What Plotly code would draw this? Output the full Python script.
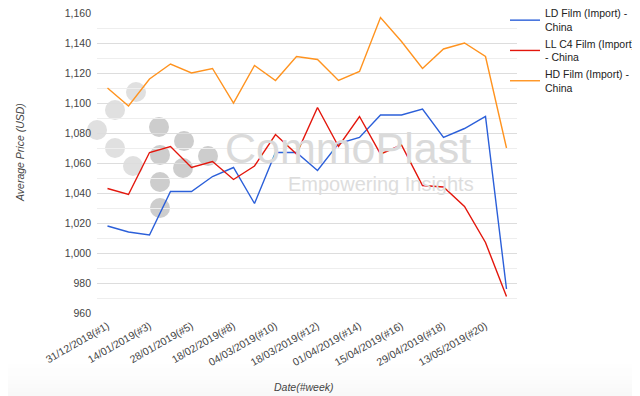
import plotly.graph_objects as go

weeks = ["31/12/2018(#1)", "07/01/2019(#2)", "14/01/2019(#3)", "21/01/2019(#4)",
         "28/01/2019(#5)", "11/02/2019(#7)", "18/02/2019(#8)", "25/02/2019(#9)",
         "04/03/2019(#10)", "11/03/2019(#11)", "18/03/2019(#12)", "25/03/2019(#13)",
         "01/04/2019(#14)", "08/04/2019(#15)", "15/04/2019(#16)", "22/04/2019(#17)",
         "29/04/2019(#18)", "06/05/2019(#19)", "13/05/2019(#20)", "20/05/2019(#21)"]

ld_film = [1018, 1014, 1012, 1041, 1041, 1051, 1057, 1033, 1067, 1067,
           1055, 1073, 1077, 1092, 1092, 1096, 1077, 1083, 1091, 976]
ll_c4_film = [1043, 1039, 1067, 1071, 1057, 1061, 1049, 1058, 1079, 1066,
              1097, 1071, 1091, 1066, 1072, 1045, 1044, 1031, 1007, 971]
hd_film = [1110, 1098, 1116, 1126, 1120, 1123, 1100, 1125, 1115, 1131,
           1129, 1115, 1121, 1157, 1141, 1123, 1136, 1140, 1131, 1070]

series_names = ["LD Film (Import) -<br>China", "LL C4 Film (Import)<br>- China",
                "HD Film (Import) -<br>China"]
series_colors = ["#2b5fd9", "#e3160c", "#ff931f"]
tick_labels = weeks[::2]

FONT = "Liberation Sans, Arial, sans-serif"
OFF = 8  # browser body margin: the figure starts 8px in from the window corner
W, H = 640 - OFF, 396 - OFF
# plot area in window pixels
L, R, T, B = 97, 517, 13, 313


def px_x(px):
    return (px - L) / (R - L)


def px_y(py):
    return (B - py) / (B - T)


fig = go.Figure()
for name, vals, col in zip(series_names, [ld_film, ll_c4_film, hd_film], series_colors):
    fig.add_trace(go.Scatter(x=weeks, y=vals, name=name, mode="lines",
                             line=dict(color=col, width=1.4)))

shapes = []
# bottom gradient band
bands = 8
for i in range(bands):
    y0 = 364 + i * (32 / bands)
    shapes.append(dict(type="rect", xref="paper", yref="paper", layer="below",
                       x0=px_x(0), x1=px_x(660), y0=px_y(y0 + 32 / bands), y1=px_y(y0),
                       line=dict(width=0),
                       fillcolor=f"rgba(210,210,210,{0.015 + 0.02 * i:.3f})"))

# watermark logo dots
light = [(136, 92), (115, 110), (97, 130), (115, 148), (133, 166)]
dark = [(159, 127), (160, 155), (160, 182), (160, 208), (184, 141), (183, 168), (208, 156)]
r = 10
for pts, col in [(light, "#e0e0e0"), (dark, "#cdcdcd")]:
    for cx, cy in pts:
        shapes.append(dict(type="circle", xref="paper", yref="paper", layer="below",
                           x0=px_x(cx - r), x1=px_x(cx + r), y0=px_y(cy + r), y1=px_y(cy - r),
                           fillcolor=col, line=dict(width=0)))

annotations = [
    dict(text="CommoPlast", xref="paper", yref="paper", x=px_x(224), y=px_y(148),
         xanchor="left", yanchor="middle", showarrow=False, borderpad=0,
         font=dict(family=FONT, size=43, color="#dadada")),
    dict(text="Empowering Insights", xref="paper", yref="paper", x=px_x(287), y=px_y(184),
         xanchor="left", yanchor="middle", showarrow=False, borderpad=0,
         font=dict(family=FONT, size=20, color="#dddddd")),
    dict(text="<i>Average Price (USD)</i>", xref="paper", yref="paper", x=px_x(20), y=px_y(153),
         xanchor="center", yanchor="middle", textangle=-90, showarrow=False,
         font=dict(family=FONT, size=10.5, color="#444444")),
    dict(text="<i>Date(#week)</i>", xref="paper", yref="paper", x=px_x(304), y=px_y(387),
         xanchor="center", yanchor="middle", showarrow=False,
         font=dict(family=FONT, size=10.5, color="#444444")),
]

fig.update_layout(
    width=W, height=H,
    margin=dict(l=L - OFF, r=W - (R - OFF), t=T - OFF, b=H - (B - OFF), pad=0, autoexpand=False),
    paper_bgcolor="white", plot_bgcolor="white",
    font=dict(family=FONT, size=10.5, color="#444444"),
    shapes=shapes, annotations=annotations,
    legend=dict(x=px_x(505), y=px_y(0), xanchor="left", yanchor="top",
                font=dict(family=FONT, size=10.5, color="#222222"),
                bgcolor="rgba(0,0,0,0)", tracegroupgap=1, itemwidth=30),
    xaxis=dict(type="category", range=[-0.5, len(weeks) - 0.5], automargin=False,
               tickmode="array", tickvals=tick_labels, ticktext=tick_labels,
               tickangle=-30, showgrid=False, zeroline=False, showline=False, ticks="",
               ticklabelstandoff=4, ticklabeloverflow="allow",
               tickfont=dict(family=FONT, size=10.5, color="#444444")),
    yaxis=dict(range=[960, 1160], tick0=960, dtick=20, tickformat=",d", automargin=False,
               showgrid=True, gridcolor="#dddddd", gridwidth=1, zeroline=False,
               showline=False, ticks="", ticklabelstandoff=5, ticklabeloverflow="allow",
               minor=dict(dtick=10, tick0=960, showgrid=True, gridcolor="#eeeeee", gridwidth=1),
               tickfont=dict(family=FONT, size=10.5, color="#444444")),
)

fig.write_html("out.html")
